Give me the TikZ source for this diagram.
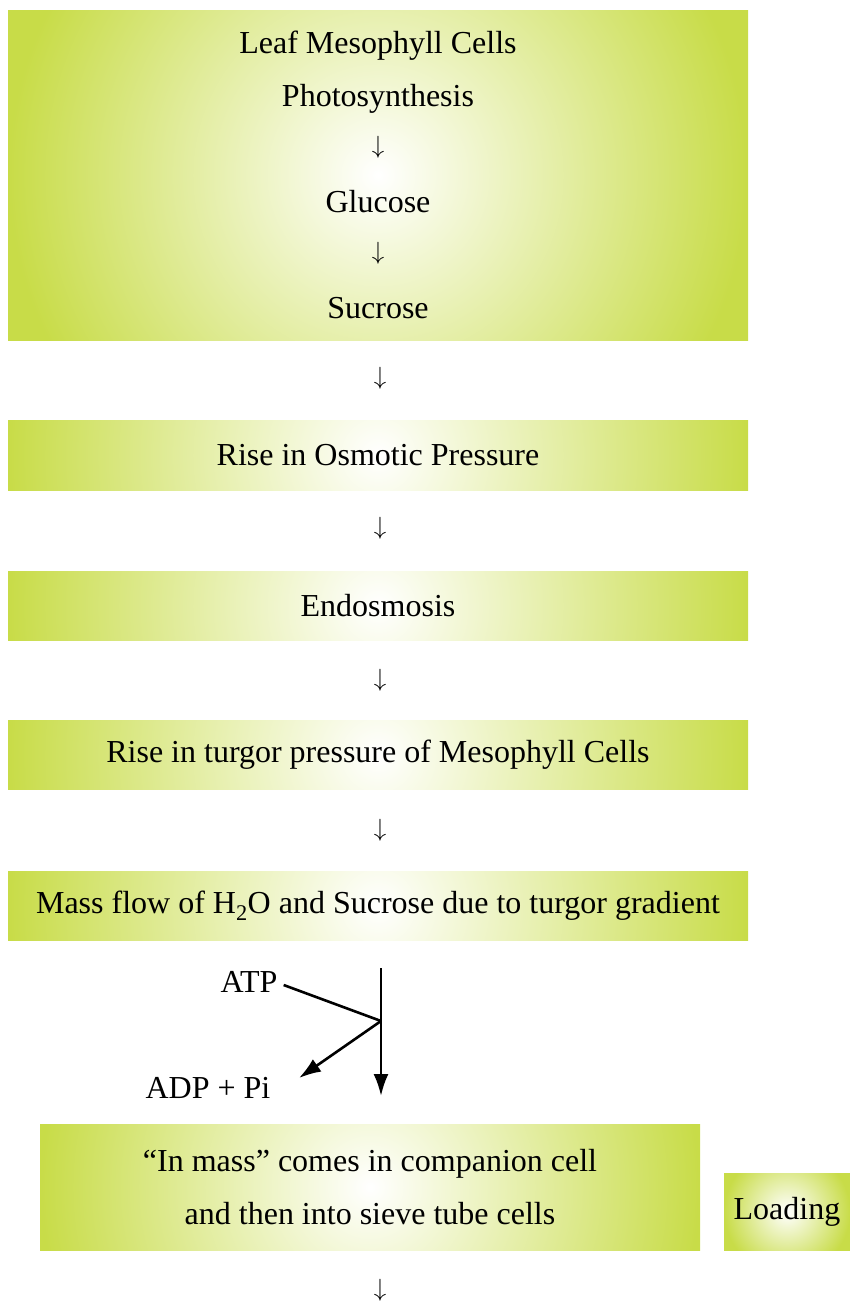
\documentclass[tikz,border=0pt]{standalone}
\usepackage{fontspec}
\setmainfont{Liberation Serif}
\usetikzlibrary{arrows.meta,calc}

\definecolor{leafgreen}{RGB}{200,220,72}
\pgfdeclareradialshading{glow}{\pgfpoint{0bp}{0bp}}{color(0bp)=(white); color(25bp)=(leafgreen); color(50bp)=(leafgreen)}

\tikzset{
	box/.style={inner sep=0pt, align=center, path picture={
		\shade[shading=glow] let \p1=(path picture bounding box.south west), \p2=(path picture bounding box.north east), \n1={abs(\x2-\x1)/2} in
			([xshift=-\n1,yshift=-\n1]path picture bounding box.center) rectangle ([xshift=\n1,yshift=\n1]path picture bounding box.center);}},
	txt/.style={inner sep=4pt},
	flow/.style={line width=2.6pt},
}

\begin{document}
\begin{tikzpicture}[x=1pt, y=-1pt, font=\fontsize{32}{53}\selectfont]
		\useasboundingbox (0, 0) rectangle (850, 1302);

		\node[box, minimum width=740, minimum height=330] (leaf) at (378, 175) {Leaf Mesophyll Cells\\Photosynthesis\\\raisebox{6pt}{$\downarrow$}\\Glucose\\\raisebox{6pt}{$\downarrow$}\\Sucrose};
		\node[txt] (d1) at (380, 378) {$\downarrow$};

		\node[box, minimum width=740, minimum height=70] (osmo) at (378, 455) {Rise in Osmotic Pressure};
		\node[txt] (d2) at (380, 528) {$\downarrow$};

		\node[box, minimum width=740, minimum height=69] (endo) at (378, 606) {Endosmosis};
		\node[txt] (d3) at (380, 680) {$\downarrow$};

		\node[box, minimum width=740, minimum height=69] (turgor) at (378, 755) {Rise in turgor pressure of Mesophyll Cells};
		\node[txt] (d4) at (380, 830) {$\downarrow$};

		\node[box, minimum width=740, minimum height=69] (mass) at (378, 906) {Mass flow of H\textsubscript{2}O and Sucrose due to turgor gradient};

		\node[txt] (atp) at (249, 982) {ATP};
		\node[txt] (adp) at (208, 1088) {ADP + Pi};

		\coordinate (T) at (381, 968);
		\coordinate (F) at (381, 1021);
		\coordinate (B) at (381, 1096);
		\coordinate (P) at (299, 1078);

		\draw[flow, -{Latex[length=22pt, width=15pt]}] (T) -- (B);
		\draw[flow] ([shift={(2, 3)}]atp.east) -- (F);
		\draw[flow, -{Latex[length=22pt, width=15pt]}] (F) -- (P);

		\node[box, minimum width=660, minimum height=126] (comp) at (370, 1187) {“In mass” comes in companion cell\\and then into sieve tube cells};
		\node[box, minimum width=126, minimum height=77] (load) at (787, 1211.5) {Loading};
		\node[txt] (d5) at (380, 1290) {$\downarrow$};
	\end{tikzpicture}
\end{document}
